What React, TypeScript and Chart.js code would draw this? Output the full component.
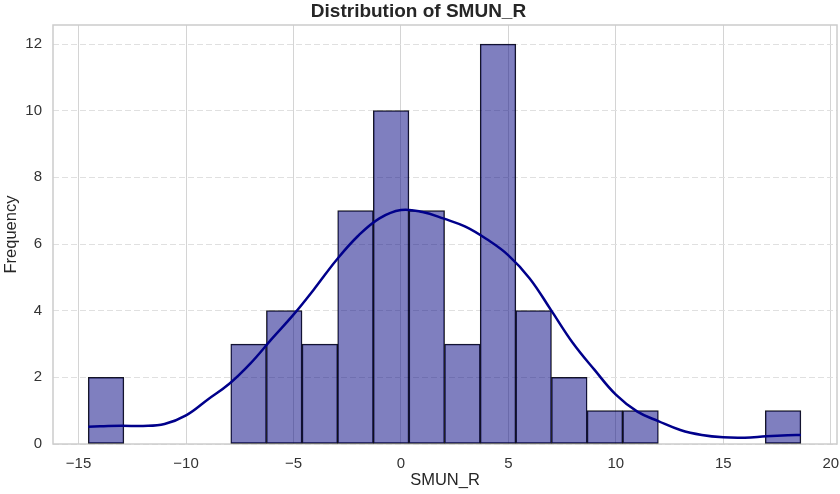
import React, { useEffect, useRef } from "react";
import { Chart, registerables } from "chart.js";

Chart.register(...registerables);

// ---- data ----
const chartTitle = "Distribution of SMUN_R";
const xAxisLabel = "SMUN_R";
const yAxisLabel = "Frequency";

// histogram bin centres (bin width ≈ 1.658)
const binCenters = [
  -13.721, -12.063, -10.405, -8.747, -7.089, -5.431, -3.773, -2.115, -0.457, 1.201,
  2.859, 4.517, 6.175, 7.833, 9.491, 11.149, 12.807, 14.465, 16.123, 17.781,
];
const binCounts = [2, 0, 0, 0, 3, 4, 3, 7, 10, 7, 3, 12, 4, 2, 1, 1, 0, 0, 0, 1];

// KDE curve samples
const kdeX = [
  -14.55, -14, -13, -12, -11, -10, -9, -8, -7, -6, -5, -4, -3, -2, -1, 0, 1, 2, 3, 4, 5,
  6, 7, 8, 9, 10, 11, 12, 13, 14, 15, 16, 17, 18, 18.61,
];
const kdeY = [
  0.52, 0.53, 0.55, 0.54, 0.6, 0.86, 1.33, 1.8, 2.42, 3.16, 3.88, 4.68, 5.52, 6.24, 6.77,
  7.02, 6.96, 6.76, 6.52, 6.14, 5.66, 4.96, 4.0, 3.03, 2.23, 1.48, 0.97, 0.68, 0.42, 0.27,
  0.2, 0.19, 0.23, 0.26, 0.27,
];

const xTicks = [-15, -10, -5, 0, 5, 10, 15, 20];
const yTicks = [0, 2, 4, 6, 8, 10, 12];
const xRange = [-16.19, 20.29];
const yRange = [0, 12.57];

const framePlugin = {
  id: "frame",
  beforeDatasetsDraw(chart: any) {
    const { ctx, chartArea: a } = chart;
    ctx.save();
    ctx.strokeStyle = "#cccccc";
    ctx.lineWidth = 1.5;
    ctx.strokeRect(a.left, a.top, a.right - a.left, a.bottom - a.top);
    ctx.restore();
  },
};

export default function App() {
  const ref = useRef<HTMLCanvasElement | null>(null);

  useEffect(() => {
    if (!ref.current) return;
    Chart.defaults.font.family = "'Liberation Sans', Arial, sans-serif";
    const chart = new Chart(ref.current, {
      type: "bar",
      data: {
        datasets: [
          {
            type: "line",
            label: "KDE",
            data: kdeX.map((x, i) => ({ x, y: kdeY[i] })),
            borderColor: "#00008b",
            borderWidth: 2.5,
            pointRadius: 0,
            tension: 0.4,
            fill: false,
            order: 0,
          } as any,
          {
            type: "bar",
            label: "Count",
            data: binCenters.map((x, i) => ({ x, y: binCounts[i] === 0 ? null : binCounts[i] })),
            backgroundColor: "rgba(0,0,128,0.5)",
            borderColor: "rgba(0,0,0,0.9)",
            borderWidth: 0.8,
            borderSkipped: false,
            barPercentage: 1,
            categoryPercentage: 1,
            order: 1,
          } as any,
        ],
      },
      options: {
        animation: false,
        responsive: false,
        layout: { padding: { left: 0, right: 3, top: 0, bottom: 0 } },
        plugins: {
          legend: { display: false },
          tooltip: { enabled: false },
          title: {
            display: true,
            text: chartTitle,
            color: "#262626",
            font: { size: 19, weight: "bold", lineHeight: 1 },
            padding: { top: 2, bottom: 4 },
          },
        },
        scales: {
          x: {
            type: "linear",
            min: xRange[0],
            max: xRange[1],
            offset: false,
            grid: { color: "#d4d4d4", lineWidth: 1, drawTicks: false, offset: false },
            border: { display: false },
            afterBuildTicks: (s: any) => {
              s.ticks = xTicks.map((v) => ({ value: v }));
            },
            afterFit: (s: any) => {
              s.height = 50;
              s.paddingLeft = 0;
              s.paddingRight = 0;
            },
            ticks: {
              color: "#333333",
              font: { size: 15 },
              padding: 11,
              maxRotation: 0,
              callback: (v: any) => String(v).replace("-", "\u2212"),
            },
            title: {
              display: true,
              text: xAxisLabel,
              color: "#262626",
              font: { size: 16.5 },
              padding: { top: 0, bottom: 4 },
            },
          },
          y: {
            type: "linear",
            min: yRange[0],
            max: yRange[1],
            grid: { color: "#e0e0e0", lineWidth: 1, drawTicks: false },
            border: { display: false, dash: [6, 3] },
            afterBuildTicks: (s: any) => {
              s.ticks = yTicks.map((v) => ({ value: v }));
            },
            afterFit: (s: any) => {
              s.width = 53;
              s.paddingTop = 0;
              s.paddingBottom = 0;
            },
            ticks: {
              color: "#333333",
              font: { size: 15 },
              padding: 11,
            },
            title: {
              display: true,
              text: yAxisLabel,
              color: "#262626",
              font: { size: 16.5 },
              padding: { top: 2, bottom: 0 },
            },
          },
        },
      } as any,
      plugins: [framePlugin],
    });
    return () => chart.destroy();
  }, []);

  return (
    <div style={{ position: "absolute", left: 0, top: 0, width: 840, height: 494, background: "#fff" }}>
      <canvas ref={ref} width={840} height={494} />
    </div>
  );
}
